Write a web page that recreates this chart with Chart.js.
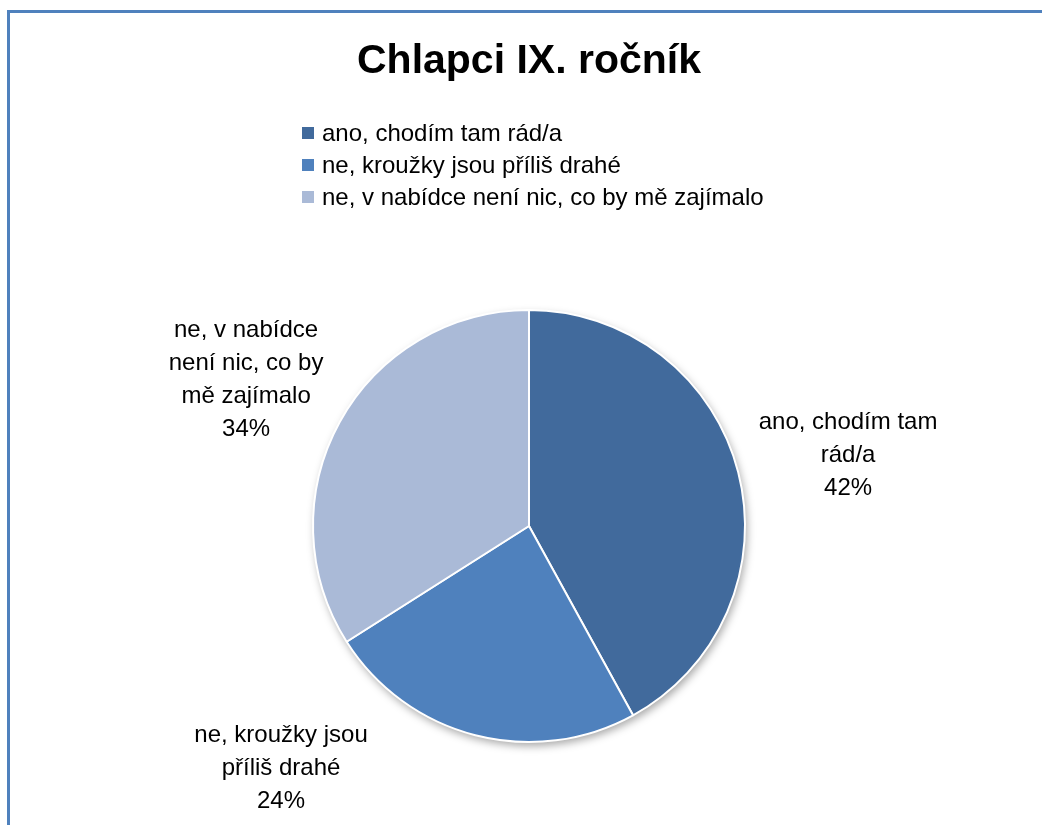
<!DOCTYPE html>
<html>
<head>
<meta charset="utf-8">
<script src="https://cdn.jsdelivr.net/npm/chart.js@4.4.0/dist/chart.umd.min.js"></script>
<style>
  html, body { margin: 0; padding: 0; background: #fff; overflow: hidden; }
  #frame { position: absolute; left: 7px; top: 10px; width: 1100px; height: 900px; border: 3px solid #4f81bd; }
  #wrap { position: absolute; left: 0; top: 0; width: 1042px; height: 825px; }
</style>
</head>
<body>
<div id="frame"></div>
<div id="wrap"><canvas id="chart"></canvas></div>
<script>
const chartTitle = 'Chlapci IX. ročník';
const categories = [
  'ano, chodím tam rád/a',
  'ne, kroužky jsou příliš drahé',
  'ne, v nabídce není nic, co by mě zajímalo'
];
const values = [42, 24, 34];
const colors = ['#416a9c', '#4f81bd', '#aabad7'];

// where each data label sits: angle shift from slice middle (deg) and distance in radii
const labelPlacement = [
  { shift: 1.9, dist: 1.513 },
  { shift: 31.3, dist: 1.604 },
  { shift: -1.5, dist: 1.474 }
];

const FONT = '"Liberation Sans", Arial, sans-serif';
Chart.defaults.font.family = FONT;

const wrapText = (ctx, text, maxWidth) => {
  const words = text.split(' ');
  const lines = [];
  let line = '';
  words.forEach((w) => {
    const test = line ? line + ' ' + w : w;
    if (line && ctx.measureText(test).width > maxWidth) {
      lines.push(line);
      line = w;
    } else {
      line = test;
    }
  });
  if (line) lines.push(line);
  return lines;
};

const pieShadow = {
  id: 'pieShadow',
  beforeDatasetsDraw(chart) {
    const ctx = chart.ctx;
    const p = chart.getDatasetMeta(0).data[0].getProps(['x', 'y', 'outerRadius'], true);
    ctx.save();
    ctx.shadowColor = 'rgba(0,0,0,0.35)';
    ctx.shadowBlur = 8;
    ctx.shadowOffsetX = 2;
    ctx.shadowOffsetY = 4;
    ctx.fillStyle = '#fff';
    ctx.beginPath();
    ctx.arc(p.x, p.y, p.outerRadius, 0, Math.PI * 2);
    ctx.fill();
    ctx.restore();
  }
};

const pieLabels = {
  id: 'pieLabels',
  afterDatasetsDraw(chart) {
    const ctx = chart.ctx;
    const meta = chart.getDatasetMeta(0);
    const total = values.reduce((a, b) => a + b, 0);
    ctx.save();
    ctx.font = '24px ' + FONT;
    ctx.fillStyle = '#000';
    ctx.textAlign = 'center';
    ctx.textBaseline = 'middle';
    meta.data.forEach((arc, i) => {
      const p = arc.getProps(['x', 'y', 'startAngle', 'endAngle', 'outerRadius'], true);
      const mid = (p.startAngle + p.endAngle) / 2 + labelPlacement[i].shift * Math.PI / 180;
      const r = p.outerRadius * labelPlacement[i].dist;
      const cx = p.x + Math.cos(mid) * r;
      const cy = p.y + Math.sin(mid) * r;
      const lines = wrapText(ctx, categories[i], 185);
      lines.push(Math.round(values[i] / total * 100) + '%');
      lines.forEach((t, j) => {
        ctx.fillText(t, cx, cy + (j - (lines.length - 1) / 2) * 33);
      });
    });
    ctx.restore();
  }
};

// legend stacked in one column, like the original
const columnLegend = {
  id: 'columnLegend',
  afterDraw(chart) {
    const ctx = chart.ctx;
    ctx.save();
    ctx.font = '24px ' + FONT;
    ctx.textAlign = 'left';
    ctx.textBaseline = 'middle';
    categories.forEach((c, i) => {
      const y = 133 + i * 32;
      ctx.fillStyle = colors[i];
      ctx.fillRect(302, y - 6, 12, 12);
      ctx.fillStyle = '#000';
      ctx.fillText(c, 322, y + 1);
    });
    ctx.restore();
  }
};

new Chart(document.getElementById('chart').getContext('2d'), {
  type: 'pie',
  data: {
    labels: categories,
    datasets: [{
      data: values,
      backgroundColor: colors,
      borderColor: '#fff',
      borderWidth: 2
    }]
  },
  options: {
    responsive: true,
    maintainAspectRatio: false,
    animation: false,
    layout: { padding: { left: 312, right: 296, top: 10, bottom: 82 } },
    plugins: {
      legend: { display: false },
      tooltip: { enabled: false },
      title: {
        display: true,
        text: chartTitle,
        color: '#000',
        font: { size: 41, weight: 'bold' },
        padding: { top: 27, bottom: 222.8 }
      }
    }
  },
  plugins: [pieShadow, pieLabels, columnLegend]
});
</script>
</body>
</html>
